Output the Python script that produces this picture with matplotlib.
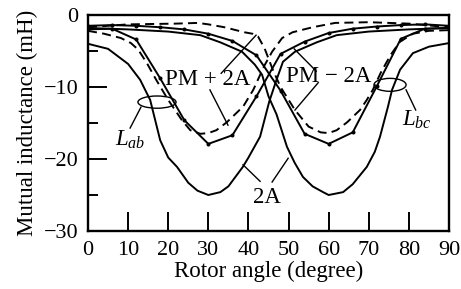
import matplotlib
matplotlib.use("Agg")
import matplotlib.pyplot as plt
from matplotlib.patches import Ellipse

plt.rcParams['font.family'] = ['Liberation Serif', 'DejaVu Serif']
plt.rcParams['lines.scale_dashes'] = False
plt.rcParams['mathtext.fontset'] = 'custom'
plt.rcParams['mathtext.it'] = 'Liberation Serif:italic'
plt.rcParams['mathtext.rm'] = 'Liberation Serif'

# ---- data (rotor angle in degree, mutual inductance in mH) ----
lab_2a_x = [0, 5, 10, 13, 15.5, 18, 20, 22.2, 25, 27.3, 30, 33, 35, 38.6, 40, 42.9, 45.2, 47, 48.6, 51.6, 57, 62, 70, 80, 90]
lab_2a_y = [-4.0, -4.7, -6.8, -9.0, -11.8, -17.4, -19.8, -21.1, -23.3, -24.4, -25.0, -24.6, -23.8, -21.1, -19.8, -16.9, -12.0, -9.0, -6.5, -5.1, -3.8, -2.8, -2.3, -2.0, -1.8]

lbc_2a_x = [0, 10, 20, 28, 33, 38.4, 41.6, 43.4, 45, 47, 49.6, 51.5, 53.6, 56, 58.6, 60, 63.6, 66, 69.5, 71.5, 72.8, 74.8, 75.8, 77.8, 81, 85, 90]
lbc_2a_y = [-1.8, -2.0, -2.3, -2.8, -3.8, -5.1, -6.9, -8.3, -11.3, -13.8, -18.3, -20.5, -22.5, -23.8, -24.6, -25.0, -24.6, -23.5, -21.1, -19.0, -16.9, -12.7, -10.4, -7.6, -5.3, -4.4, -3.9]

marker_x = [0, 6, 12, 18, 24, 30, 36, 42, 48, 54, 60, 66, 72, 78, 84, 90]
lab_pm_y = [-2.0, -1.9, -3.4, -8.8, -14.6, -17.9, -16.7, -11.3, -5.4, -3.7, -2.5, -1.9, -1.6, -1.4, -1.3, -1.5]
lbc_pm_y = [-1.5, -1.4, -1.5, -1.7, -2.0, -2.6, -3.6, -5.6, -10.5, -16.5, -17.9, -16.3, -9.9, -3.3, -1.9, -1.8]

lab_d_x = [0, 4, 8.2, 10.7, 12.5, 14.7, 17, 20, 23.4, 25.5, 28, 30, 32, 34.6, 38.7, 41.2, 44, 45.9, 48.4, 51, 56, 61.6, 70, 80, 90]
lab_d_y = [-2.2, -2.6, -3.2, -3.9, -4.8, -6.7, -9.0, -11.8, -14.6, -16.0, -16.5, -16.4, -16.0, -14.9, -12.7, -10.4, -7.0, -5.1, -3.2, -2.4, -1.7, -1.1, -1.0, -1.2, -1.7]

lbc_d_x = [0, 10, 21.7, 27.4, 30, 34, 39, 41, 42.4, 44, 46, 48, 51.6, 55, 58, 60, 62, 64.6, 67.8, 69.5, 71, 73, 75.5, 77.8, 81, 85, 90]
lbc_d_y = [-1.7, -1.3, -1.2, -1.1, -1.3, -1.7, -2.4, -2.6, -3.0, -4.6, -7.5, -10.0, -13.2, -15.5, -16.3, -16.4, -16.0, -14.9, -13.2, -11.8, -10.4, -8.0, -5.5, -3.7, -2.6, -2.2, -2.1]

x_ticks = [0, 10, 20, 30, 40, 50, 60, 70, 80, 90]
y_ticks = [0, -10, -20, -30]
y_minor = [-5, -15, -25]

fig = plt.figure(figsize=(4.61, 2.89), dpi=100)
ax = fig.add_axes([88/461, 1 - 231/289, (449-88)/461, (231-15)/289])

lw = 1.4
ax.plot(lab_2a_x, lab_2a_y, color='black', lw=lw)
ax.plot(lbc_2a_x, lbc_2a_y, color='black', lw=lw)
ax.plot(marker_x, lab_pm_y, color='black', lw=lw, marker='o', ms=1.9)
ax.plot(marker_x, lbc_pm_y, color='black', lw=lw, marker='o', ms=1.9)
ax.plot(lab_d_x, lab_d_y, color='black', lw=lw, linestyle=(0, (6.5, 3.8)))
ax.plot(lbc_d_x, lbc_d_y, color='black', lw=lw, linestyle=(0, (6.5, 3.8)))

ax.set_xlim(0, 90)
ax.set_ylim(-30, 0)
ax.set_xticks(x_ticks)
ax.set_yticks(y_ticks)
ax.set_yticks(y_minor, minor=True)
ax.tick_params(axis='both', which='major', direction='in', length=13.5, width=1.4,
               labelsize=16, pad=7)
ax.tick_params(axis='y', which='minor', direction='in', length=7, width=1.4)
for s in ax.spines.values():
    s.set_linewidth(1.7)

ax.set_xlabel('Rotor angle (degree)', fontsize=16.5, labelpad=1)
ax.set_ylabel('Mutual inductance (mH)', fontsize=16.5, labelpad=4)

fs = 16.5
ax.text(29.9, -9.0, 'PM + 2A', fontsize=fs, ha='center', va='center')
ax.text(60.1, -8.6, 'PM \u2212 2A', fontsize=fs, ha='center', va='center')
ax.text(44.6, -25.4, '2A', fontsize=fs, ha='center', va='center')
ax.text(10.5, -17.4, r'$L_{ab}$', fontsize=fs, ha='center', va='center')
ax.text(82.0, -14.6, r'$L_{bc}$', fontsize=fs, ha='center', va='center')

lk = dict(color='black', lw=1.0)
ax.plot([33.2, 41.9], [-8.1, -2.8], **lk)
ax.plot([30.4, 34.9], [-10.4, -15.3], **lk)
ax.plot([51.4, 56.9], [-4.7, -7.8], **lk)
ax.plot([57.4, 51.6], [-9.4, -13.2], **lk)
ax.plot([38.65, 42.9], [-20.8, -23.1], **lk)
ax.plot([49.9, 45.9], [-19.9, -23.2], **lk)
ax.plot([13.2, 10.5], [-12.8, -15.7], **lk)
ax.plot([79.3, 81.7], [-10.4, -13.2], **lk)

ax.add_patch(Ellipse((17.2, -12.1), 9.5, 1.7, fill=False, lw=1.0, color='black'))
ax.add_patch(Ellipse((75.3, -9.7), 8.0, 1.8, fill=False, lw=1.0, color='black'))

fig.savefig('out.png', dpi=100)
